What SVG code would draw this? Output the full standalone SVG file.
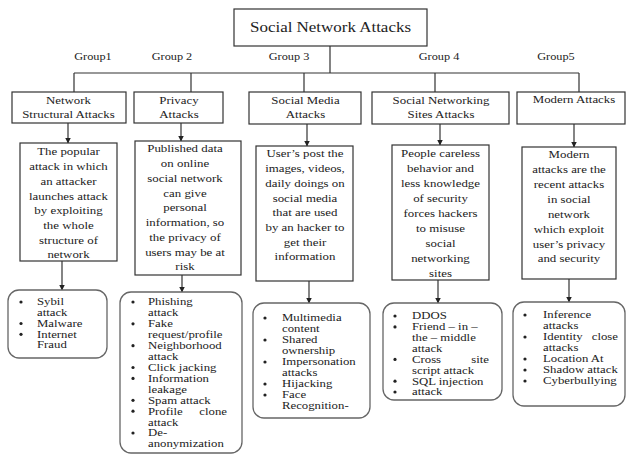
<svg xmlns="http://www.w3.org/2000/svg" width="627" height="455" viewBox="0 0 627 455">
<style>
.box{fill:#fff;stroke:#333;stroke-width:1.2}
.lst{fill:#fff;stroke:#666;stroke-width:1.3}
.ln{fill:none;stroke:#333;stroke-width:1.2}
.b{fill:#222}
</style>
<defs>
<marker id="ah" markerUnits="userSpaceOnUse" markerWidth="6" markerHeight="6" refX="5.5" refY="3" orient="auto">
<path d="M0,0 L6,3 L0,6 z" fill="#222"/>
</marker>
</defs>
<rect width="627" height="455" fill="#fff"/>
<g id="connectors">
<path class="ln" d="M330,46 V73 M74,73 H579 M74,73 V92 M191,73 V92 M304,73 V92 M435,73 V92 M579,73 V92"/>
<line class="ln" x1="68" y1="123" x2="68" y2="143" marker-end="url(#ah)"/>
<line class="ln" x1="181" y1="123" x2="181" y2="141" marker-end="url(#ah)"/>
<line class="ln" x1="307" y1="124" x2="307" y2="146" marker-end="url(#ah)"/>
<line class="ln" x1="440" y1="124" x2="440" y2="145" marker-end="url(#ah)"/>
<line class="ln" x1="574" y1="124" x2="574" y2="147" marker-end="url(#ah)"/>
<line class="ln" x1="62" y1="261" x2="62" y2="290" marker-end="url(#ah)"/>
<line class="ln" x1="182" y1="275" x2="182" y2="292" marker-end="url(#ah)"/>
<line class="ln" x1="309" y1="281" x2="309" y2="303" marker-end="url(#ah)"/>
<line class="ln" x1="438" y1="280" x2="438" y2="303" marker-end="url(#ah)"/>
<line class="ln" x1="569" y1="279" x2="569" y2="302" marker-end="url(#ah)"/>
</g>
<g font-family="Liberation Serif, Times New Roman, serif" fill="#222">
<g id="title">
<rect class="box" x="234" y="9" width="193" height="37"/>
<text text-anchor="middle" font-size="14.5" x="330.5" y="32" transform="matrix(1.17 0 0 1 -56.185 0)">Social Network Attacks</text>
</g>
<g id="group-labels" text-anchor="middle" font-size="10.5">
<text x="93" y="60.5" transform="matrix(1.17 0 0 1 -15.81 0)">Group1</text>
<text x="172" y="60.5" transform="matrix(1.17 0 0 1 -29.24 0)">Group 2</text>
<text x="289" y="60.5" transform="matrix(1.17 0 0 1 -49.13 0)">Group 3</text>
<text x="439" y="60.5" transform="matrix(1.17 0 0 1 -74.63 0)">Group 4</text>
<text x="556" y="60.5" transform="matrix(1.17 0 0 1 -94.52 0)">Group5</text>
</g>
<g id="cat1">
<rect class="box" x="12" y="92" width="114" height="31"/>
<g text-anchor="middle" font-size="11" transform="matrix(1.17 0 0 1 -11.645 0)">
<text x="68.5" y="104.5">Network</text>
<text x="68.5" y="118.5">Structural Attacks</text>
</g>
</g>
<g id="cat2">
<rect class="box" x="134" y="92" width="89" height="31"/>
<g text-anchor="middle" font-size="11" transform="matrix(1.17 0 0 1 -30.43 0)">
<text x="179" y="104.5">Privacy</text>
<text x="179" y="118.5">Attacks</text>
</g>
</g>
<g id="cat3">
<rect class="box" x="249" y="92" width="112" height="32"/>
<g text-anchor="middle" font-size="11" transform="matrix(1.17 0 0 1 -51.935 0)">
<text x="305.5" y="104.5">Social Media</text>
<text x="305.5" y="118.5">Attacks</text>
</g>
</g>
<g id="cat4">
<rect class="box" x="372" y="92" width="137" height="32"/>
<g text-anchor="middle" font-size="11" transform="matrix(1.17 0 0 1 -74.97 0)">
<text x="441" y="104.5">Social Networking</text>
<text x="441" y="118.5">Sites Attacks</text>
</g>
</g>
<g id="cat5">
<rect class="box" x="517" y="92" width="108" height="32"/>
<text text-anchor="middle" font-size="11" x="574" y="103" transform="matrix(1.17 0 0 1 -97.58 0)">Modern Attacks</text>
</g>
<g id="desc1">
<rect class="box" x="20" y="143" width="97" height="118"/>
<g text-anchor="middle" font-size="11" transform="matrix(1.17 0 0 1 -11.645 0)">
<text x="68.5" y="155.5">The popular</text>
<text x="68.5" y="170.2">attack in which</text>
<text x="68.5" y="184.9">an attacker</text>
<text x="68.5" y="199.6">launches attack</text>
<text x="68.5" y="214.3">by exploiting</text>
<text x="68.5" y="229">the whole</text>
<text x="68.5" y="243.7">structure of</text>
<text x="68.5" y="258.4">network</text>
</g>
</g>
<g id="desc2">
<rect class="box" x="135" y="141" width="106" height="134"/>
<g text-anchor="middle" font-size="11" transform="matrix(1.17 0 0 1 -31.45 0)">
<text x="185" y="152.5">Published data</text>
<text x="185" y="167.3">on online</text>
<text x="185" y="182">social network</text>
<text x="185" y="196.8">can give</text>
<text x="185" y="211.5">personal</text>
<text x="185" y="226.3">information, so</text>
<text x="185" y="241">the privacy of</text>
<text x="185" y="255.8">users may be at</text>
<text x="185" y="270.5">risk</text>
</g>
</g>
<g id="desc3">
<rect class="box" x="256" y="146" width="97" height="135"/>
<g text-anchor="middle" font-size="11" transform="matrix(1.17 0 0 1 -51.85 0)">
<text x="305" y="157.5">User’s post the</text>
<text x="305" y="172.2">images, videos,</text>
<text x="305" y="186.9">daily doings on</text>
<text x="305" y="201.6">social media</text>
<text x="305" y="216.3">that are used</text>
<text x="305" y="231">by an hacker to</text>
<text x="305" y="245.7">get their</text>
<text x="305" y="260.4">information</text>
</g>
</g>
<g id="desc4">
<rect class="box" x="392" y="145" width="97" height="135"/>
<g text-anchor="middle" font-size="11" transform="matrix(1.17 0 0 1 -74.885 0)">
<text x="440.5" y="157.5">People careless</text>
<text x="440.5" y="172.4">behavior and</text>
<text x="440.5" y="187.3">less knowledge</text>
<text x="440.5" y="202.2">of security</text>
<text x="440.5" y="217.1">forces hackers</text>
<text x="440.5" y="232">to misuse</text>
<text x="440.5" y="246.9">social</text>
<text x="440.5" y="261.8">networking</text>
<text x="440.5" y="276.7">sites</text>
</g>
</g>
<g id="desc5">
<rect class="box" x="522" y="147" width="94" height="132"/>
<g text-anchor="middle" font-size="11" transform="matrix(1.17 0 0 1 -96.73 0)">
<text x="569" y="158.5">Modern</text>
<text x="569" y="173.4">attacks are the</text>
<text x="569" y="188.2">recent attacks</text>
<text x="569" y="203.1">in social</text>
<text x="569" y="217.9">network</text>
<text x="569" y="232.8">which exploit</text>
<text x="569" y="247.7">user’s privacy</text>
<text x="569" y="262.5">and security</text>
</g>
</g>
<g id="list1" font-size="10.3">
<rect class="lst" x="8" y="290" width="99" height="68" rx="11"/>
<circle class="b" cx="21" cy="302" r="1.6"/>
<circle class="b" cx="21" cy="323.5" r="1.6"/>
<circle class="b" cx="21" cy="334.3" r="1.6"/>
<g transform="matrix(1.24 0 0 1 -8.88 0)">
<text x="37" y="305.5">Sybil</text>
<text x="37" y="316.3">attack</text>
<text x="37" y="327">Malware</text>
<text x="37" y="337.8">Internet</text>
<text x="37" y="348.5">Fraud</text>
</g>
</g>
<g id="list2" font-size="10.3">
<rect class="lst" x="120" y="292" width="122" height="161" rx="11"/>
<circle class="b" cx="133" cy="302" r="1.6"/>
<circle class="b" cx="133" cy="323.8" r="1.6"/>
<circle class="b" cx="133" cy="345.7" r="1.6"/>
<circle class="b" cx="133" cy="367.5" r="1.6"/>
<circle class="b" cx="133" cy="378.4" r="1.6"/>
<circle class="b" cx="133" cy="400.3" r="1.6"/>
<circle class="b" cx="133" cy="411.2" r="1.6"/>
<circle class="b" cx="133" cy="433" r="1.6"/>
<g transform="matrix(1.24 0 0 1 -35.52 0)">
<text x="148" y="305.5">Phishing</text>
<text x="148" y="316.4">attack</text>
<text x="148" y="327.3">Fake</text>
<text x="148" y="338.3">request/profile</text>
<text x="148" y="349.2">Neighborhood</text>
<text x="148" y="360.1">attack</text>
<text x="148" y="371">Click jacking</text>
<text x="148" y="381.9">Information</text>
<text x="148" y="392.9">leakage</text>
<text x="148" y="403.8">Spam attack</text>
<text x="148" y="414.7">Profile</text>
<text x="148" y="425.6">attack</text>
<text x="148" y="436.5">De-</text>
<text x="148" y="447.5">anonymization</text>
</g>
<text text-anchor="end" x="227" y="414.7" transform="matrix(1.24 0 0 1 -54.48 0)">clone</text>
</g>
<g id="list3" font-size="10.3">
<rect class="lst" x="253" y="303" width="117" height="115" rx="11"/>
<circle class="b" cx="265" cy="318" r="1.6"/>
<circle class="b" cx="265" cy="340" r="1.6"/>
<circle class="b" cx="265" cy="362" r="1.6"/>
<circle class="b" cx="265" cy="384" r="1.6"/>
<circle class="b" cx="265" cy="395" r="1.6"/>
<g transform="matrix(1.24 0 0 1 -67.68 0)">
<text x="282" y="321.5">Multimedia</text>
<text x="282" y="332.5">content</text>
<text x="282" y="343.5">Shared</text>
<text x="282" y="354.5">ownership</text>
<text x="282" y="365.5">Impersonation</text>
<text x="282" y="376.5">attacks</text>
<text x="282" y="387.5">Hijacking</text>
<text x="282" y="398.5">Face</text>
<text x="282" y="409.5">Recognition-</text>
</g>
</g>
<g id="list4" font-size="10.3">
<rect class="lst" x="383" y="303" width="119" height="97" rx="11"/>
<circle class="b" cx="395" cy="316" r="1.6"/>
<circle class="b" cx="395" cy="326.9" r="1.6"/>
<circle class="b" cx="395" cy="359.4" r="1.6"/>
<circle class="b" cx="395" cy="381.2" r="1.6"/>
<circle class="b" cx="395" cy="392" r="1.6"/>
<g transform="matrix(1.24 0 0 1 -98.88 0)">
<text x="412" y="319.5">DDOS</text>
<text x="412" y="330.4">Friend – in –</text>
<text x="412" y="341.2">the – middle</text>
<text x="412" y="352.1">attack</text>
<text x="412" y="362.9">Cross</text>
<text x="412" y="373.8">script attack</text>
<text x="412" y="384.7">SQL injection</text>
<text x="412" y="395.5">attack</text>
</g>
<text text-anchor="end" x="489" y="362.9" transform="matrix(1.24 0 0 1 -117.36 0)">site</text>
</g>
<g id="list5" font-size="10.3">
<rect class="lst" x="513" y="302" width="112" height="104" rx="11"/>
<circle class="b" cx="525" cy="315" r="1.6"/>
<circle class="b" cx="525" cy="337" r="1.6"/>
<circle class="b" cx="525" cy="359" r="1.6"/>
<circle class="b" cx="525" cy="370" r="1.6"/>
<circle class="b" cx="525" cy="381" r="1.6"/>
<g transform="matrix(1.24 0 0 1 -130.32 0)">
<text x="543" y="318.5">Inference</text>
<text x="543" y="329.5">attacks</text>
<text x="543" y="340.5">Identity</text>
<text x="543" y="351.5">attacks</text>
<text x="543" y="362.5">Location At</text>
<text x="543" y="373.5">Shadow attack</text>
<text x="543" y="384.5">Cyberbullying</text>
</g>
<text text-anchor="end" x="618" y="340.5" transform="matrix(1.24 0 0 1 -148.32 0)">close</text>
</g>
</g>
</svg>
